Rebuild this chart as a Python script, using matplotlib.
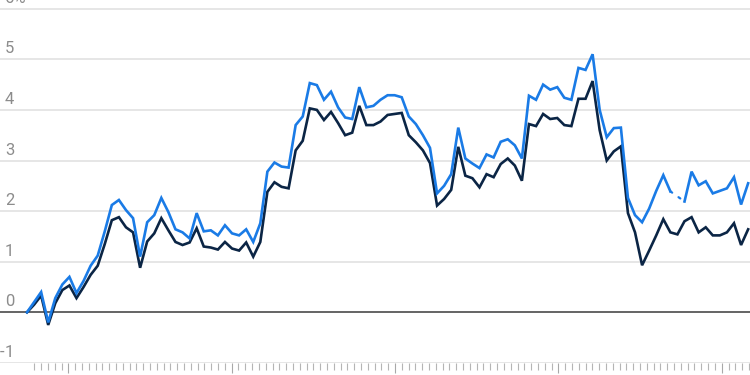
import numpy as np
import matplotlib
matplotlib.use("Agg")
import matplotlib.pyplot as plt

# ---- data (monthly index) ----
blue = [0.0, 0.2, 0.4, -0.2, 0.28, 0.55, 0.7, 0.38, 0.62, 0.92, 1.12, 1.6,
        2.12, 2.22, 2.02, 1.86, 1.1, 1.78, 1.92, 2.26, 1.98, 1.64, 1.58, 1.46,
        1.96, 1.6, 1.62, 1.52, 1.72, 1.56, 1.52, 1.64, 1.39, 1.76, 2.78, 2.96,
        2.88, 2.86, 3.7, 3.87, 4.53, 4.49, 4.2, 4.36, 4.05, 3.85, 3.82, 4.45,
        4.05, 4.08, 4.2, 4.29, 4.29, 4.25, 3.87, 3.72, 3.5, 3.25, 2.35, 2.5,
        2.73, 3.65, 3.04, 2.94, 2.85, 3.12, 3.06, 3.37, 3.42, 3.3, 3.04, 4.28,
        4.2, 4.5, 4.4, 4.45, 4.24, 4.2, 4.83, 4.79, 5.1, 4.0, 3.46, 3.64,
        3.65, 2.26, 1.92, 1.78, 2.05, 2.4, 2.71, 2.39, np.nan, 2.19, 2.78, 2.51,
        2.59, 2.35, 2.4, 2.45, 2.67, 2.13, 2.55]
dark = [0.0, 0.15, 0.33, -0.25, 0.18, 0.44, 0.53, 0.28, 0.5, 0.74, 0.92, 1.35,
        1.82, 1.88, 1.68, 1.58, 0.88, 1.4, 1.56, 1.86, 1.62, 1.39, 1.33, 1.38,
        1.66, 1.3, 1.28, 1.24, 1.39, 1.26, 1.22, 1.38, 1.1, 1.39, 2.38, 2.57,
        2.48, 2.45, 3.2, 3.39, 4.03, 4.0, 3.8, 3.96, 3.74, 3.5, 3.55, 4.08,
        3.7, 3.7, 3.77, 3.9, 3.92, 3.94, 3.5, 3.36, 3.2, 2.95, 2.11, 2.24,
        2.42, 3.27, 2.7, 2.65, 2.47, 2.73, 2.67, 2.93, 3.04, 2.9, 2.6, 3.72,
        3.68, 3.92, 3.82, 3.84, 3.7, 3.68, 4.22, 4.22, 4.57, 3.6, 3.0, 3.18,
        3.28, 1.96, 1.58, 0.93, 1.22, 1.52, 1.84, 1.58, 1.54, 1.8, 1.88, 1.58,
        1.68, 1.52, 1.52, 1.58, 1.76, 1.33, 1.64]
gap_start, gap_end = 91, 93          # blue value missing between these months
y_ticks = [-1, 0, 1, 2, 3, 4, 5, 6]
y_labels = ["-1", "0", "1", "2", "3", "4", "5", "6%"]

x = np.arange(len(blue))
blue = np.array(blue, dtype=float)
dark = np.array(dark, dtype=float)

W, H, DPI = 750, 375, 100
fig = plt.figure(figsize=(W / DPI, H / DPI), dpi=DPI)
ax_bottom = 12.1 / H
ax = fig.add_axes([0, ax_bottom, 1, 1 - ax_bottom])

step_px = 7.07
x0_px = 27.0
ax.set_xlim(-x0_px / step_px, (W - x0_px) / step_px)
ax.set_ylim(-1, 6.172)

# gridlines
for v in y_ticks:
    if v == 0:
        continue
    ax.axhline(v, color="#e6e6e6", lw=1.4, zorder=0)
ax.axhline(0, color="#4a4a4a", lw=1.2, zorder=3)

# lines
ax.plot(x, dark, color="#0b2545", lw=1.9, solid_joinstyle="miter", zorder=4)
ax.plot(x, blue, color="#1a7be6", lw=1.9, solid_joinstyle="miter", zorder=5)
ax.plot([gap_start, gap_end], [blue[gap_start], blue[gap_end]], color="#1a7be6",
        lw=1.6, linestyle=(0, (1, 3.5)), dash_capstyle="round", zorder=5)

# x ticks (monthly minor, biennial major) in pixel spacing
tick_step = 6.806 / step_px
tick_start = (34.3 - x0_px) / step_px
minor = [tick_start + k * tick_step for k in range(106)]
major = [tick_start + k * tick_step for k in range(5, 106, 24)]
ax.set_xticks(major)
ax.set_xticks(minor, minor=True)
ax.tick_params(axis="x", which="major", length=7.5, width=0.8, color="#a8a8a8",
               labelbottom=False)
ax.tick_params(axis="x", which="minor", length=5, width=0.8, color="#b5b5b5",
               labelbottom=False)
ax.set_yticks([])
for s in ax.spines.values():
    s.set_visible(False)

# y labels: above gridlines, digits aligned at x=5px, minus hanging left
for v, lab in zip(y_ticks, y_labels):
    if lab.startswith("-"):
        ax.annotate("-", xy=(0, v), xycoords=("axes fraction", "data"),
                    xytext=(4.5, 6), textcoords="offset pixels", ha="right",
                    va="baseline", fontsize=12, color="#8c8c8c", family="Roboto")
        lab = lab[1:]
    ax.annotate(lab, xy=(0, v), xycoords=("axes fraction", "data"),
                xytext=(5, 6), textcoords="offset pixels", ha="left",
                va="baseline", fontsize=12, color="#8c8c8c", family="Roboto",
                annotation_clip=False)

fig.savefig("out.png", dpi=DPI)
